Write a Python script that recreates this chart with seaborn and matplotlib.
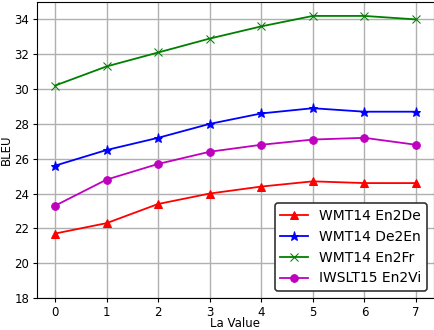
import pandas as pd
import seaborn as sns
import matplotlib.pyplot as plt

la_values = [0, 1, 2, 3, 4, 5, 6, 7]
en2de = [21.7, 22.3, 23.4, 24.0, 24.4, 24.7, 24.6, 24.6]
de2en = [25.6, 26.5, 27.2, 28.0, 28.6, 28.9, 28.7, 28.7]
en2fr = [30.2, 31.3, 32.1, 32.9, 33.6, 34.2, 34.2, 34.0]
en2vi = [23.3, 24.8, 25.7, 26.4, 26.8, 27.1, 27.2, 26.8]

series = [('WMT14 En2De', en2de, 'r', '^', 5.5),
          ('WMT14 De2En', de2en, 'b', '*', 6.5),
          ('WMT14 En2Fr', en2fr, 'g', 'x', 5.5),
          ('IWSLT15 En2Vi', en2vi, 'm', 'o', 5.5)]

fig = plt.figure(figsize=(4.34, 3.3), dpi=100)
ax = fig.add_axes([37 / 434, 32 / 330, 397 / 434, 296 / 330])

for name, vals, col, mk, ms in series:
    df = pd.DataFrame({'la': la_values, 'bleu': vals})
    sns.lineplot(data=df, x='la', y='bleu', color=col, marker=mk, markersize=ms,
                 markeredgecolor=col, linewidth=1.3, label=name, ax=ax)

ax.set_ylim(18, 35)
ax.set_yticks([18, 20, 22, 24, 26, 28, 30, 32, 34])
ax.set_xticks(la_values)
ax.grid(True, color='#b0b0b0', linewidth=1)
ax.set_axisbelow(True)
ax.tick_params(labelsize=8.5, pad=2.5, length=3)
ax.set_xlabel('La Value', fontsize=8.5)
ax.set_ylabel('BLEU', fontsize=8.5)
# labels sit tight to the edges in the original
ax.xaxis.set_label_coords(0.5, -0.087)
ax.xaxis.label.set_va('center')
ax.yaxis.set_label_coords(-0.076, 0.5)
ax.yaxis.label.set_va('center')
leg = ax.legend(loc='lower right', fontsize=10, frameon=True, fancybox=True,
                edgecolor='#333333', framealpha=1, handlelength=2.0)
leg.get_frame().set_linewidth(1.2)

plt.savefig('out.png', dpi=100)
